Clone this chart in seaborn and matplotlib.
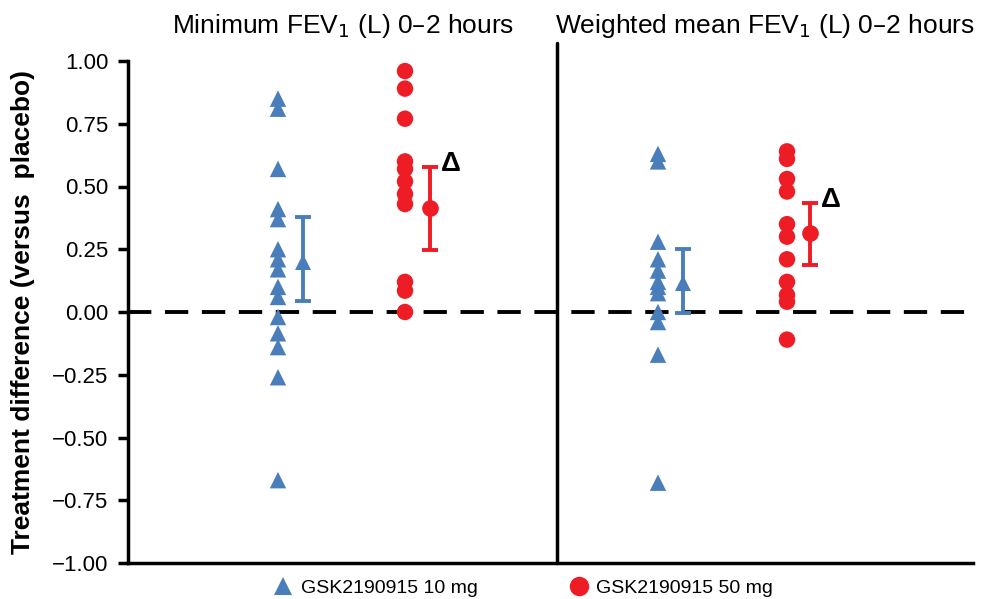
import matplotlib
matplotlib.use("Agg")
import matplotlib.pyplot as plt
import matplotlib.transforms as mtransforms
from matplotlib.lines import Line2D
import pandas as pd
import seaborn as sns

sns.set_theme(style="white")
plt.rcParams['font.family'] = ['Liberation Sans', 'DejaVu Sans']
plt.rcParams.update({'text.color': 'black', 'axes.labelcolor': 'black',
                     'ytick.color': 'black', 'xtick.color': 'black'})

# individual treatment differences
min_10mg = [0.85, 0.81, 0.57, 0.41, 0.37, 0.25, 0.21, 0.17, 0.10, 0.06,
            -0.02, -0.085, -0.14, -0.26, -0.67]
min_50mg = [0.96, 0.89, 0.77, 0.60, 0.57, 0.52, 0.47, 0.43, 0.12, 0.085, 0.00]
wm_10mg = [0.63, 0.60, 0.28, 0.21, 0.165, 0.12, 0.10, 0.075, 0.00, -0.04,
           -0.17, -0.68]
wm_50mg = [0.64, 0.61, 0.53, 0.48, 0.35, 0.30, 0.21, 0.12, 0.068, 0.041, -0.11]

# adjusted means with 95% CI (panel order: minimum, weighted mean)
mean_10mg = [0.20, 0.115]
lo_10mg = [0.045, -0.003]
hi_10mg = [0.38, 0.25]
mean_50mg = [0.413, 0.313]
lo_50mg = [0.247, 0.187]
hi_50mg = [0.579, 0.435]

panels = ["Minimum FEV$_1$ (L) 0\u20132 hours", "Weighted mean FEV$_1$ (L) 0\u20132 hours"]
doses = ["GSK2190915 10 mg", "GSK2190915 50 mg"]

BLUE = "#4a7ebb"
RED = "#ee1c25"

# x layout: one unit = 100 px of the original figure
pos_pts = {(0, 0): 1.50, (0, 1): 2.77, (1, 0): 5.30, (1, 1): 6.59}
pos_mean = {(0, 0): 1.75, (0, 1): 3.02, (1, 0): 5.55, (1, 1): 6.82}
divider = 4.29

rows = []
for p, (a, b) in enumerate([(min_10mg, min_50mg), (wm_10mg, wm_50mg)]):
    for d, vals in enumerate([a, b]):
        for v in vals:
            rows.append({"x": pos_pts[(p, d)], "diff": v, "dose": doses[d]})
df = pd.DataFrame(rows)

fig = plt.figure(figsize=(9.82, 5.99), dpi=100)
ax = fig.add_axes([128 / 982, 36 / 599, (973 - 128) / 982, (563 - 61) / 599])

sns.scatterplot(data=df, x="x", y="diff", hue="dose", style="dose",
                palette=[BLUE, RED], markers=["^", "o"],
                s=140, linewidth=0, ax=ax, legend=False, zorder=3)

for p in range(2):
    for d, (m, lo, hi, col, mk) in enumerate([
            (mean_10mg, lo_10mg, hi_10mg, BLUE, "^"),
            (mean_50mg, lo_50mg, hi_50mg, RED, "o")]):
        x = pos_mean[(p, d)]
        ax.errorbar(x, m[p], yerr=[[m[p] - lo[p]], [hi[p] - m[p]]], fmt="none",
                    ecolor=col, elinewidth=2.8, capsize=5.5, capthick=2.8,
                    zorder=3)
        ax.plot(x, m[p], marker=mk, color=col, ms=12, mew=0, ls="", zorder=4)
        if d == 1:
            ax.text(x + 0.11, hi[p] + 0.01, "\u0394", fontsize=20,
                    fontweight="bold", color="black", ha="left", va="center")

ax.set_xlim(0, (973 - 128) / 100)
ax.set_ylim(-1.0, 1.0)
ax.set_yticks([1.0, 0.75, 0.5, 0.25, 0.0, -0.25, -0.5, -0.75, -1.0])
ax.set_yticklabels(["1.00", "0.75", "0.50", "0.25", "0.00", "\u22120.25",
                    "\u22120.50", "\u22120.75", "\u22121.00"], fontsize=16)
ax.set_xticks([])
ax.set_xlabel("")
ax.set_ylabel("Treatment difference (versus  placebo)", fontsize=19,
              fontweight="bold")
ax.yaxis.set_label_coords(-93 / 845, 0.5)

for side in ["top", "right"]:
    ax.spines[side].set_visible(False)
for side in ["left", "bottom"]:
    ax.spines[side].set_linewidth(2.5)
    ax.spines[side].set_color("black")
ax.tick_params(axis="y", direction="out", length=7, width=2.5, colors="black",
               left=True, pad=7)

ax.axhline(0, color="black", lw=2.8, ls=(0, (6, 3.5)), zorder=2)
ax.axvline(divider, ymin=0, ymax=1.035, color="black", lw=2.5, clip_on=False)

trans = mtransforms.blended_transform_factory(ax.transData, fig.transFigure)
ax.text(2.15, 1 - 26 / 599, panels[0], fontsize=19, ha="center", va="center",
        transform=trans)
ax.text(6.37, 1 - 26 / 599, panels[1], fontsize=19, ha="center", va="center",
        transform=trans)

handles = [Line2D([], [], marker="^", ls="", color=BLUE, ms=13, mew=0),
           Line2D([], [], marker="o", ls="", color=RED, ms=14, mew=0)]
fig.legend(handles, doses, loc="center", bbox_to_anchor=(0.532, 0.018), ncol=2,
           frameon=False, fontsize=14, handletextpad=0.3, columnspacing=4.6,
           handlelength=1.2, borderpad=0.1)

fig.savefig("out.png", dpi=100)
